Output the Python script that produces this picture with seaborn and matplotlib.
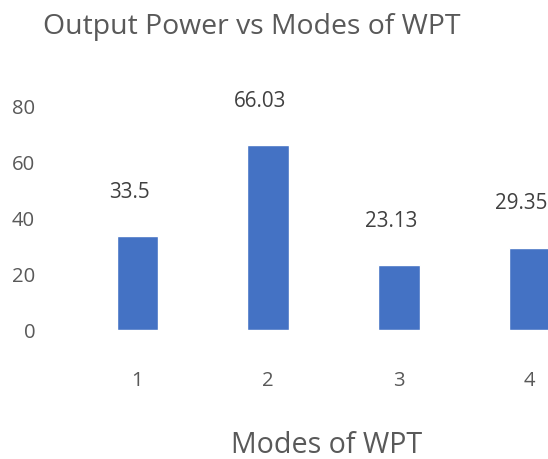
import matplotlib
matplotlib.use("Agg")
import matplotlib.pyplot as plt
import seaborn as sns
import pandas as pd

modes = ["1", "2", "3", "4"]
power = [33.5, 66.03, 23.13, 29.35]
value_labels = ["33.5", "66.03", "23.13", "29.35"]
yticks = [0, 20, 40, 60, 80]

sns.set_theme(style="white")
plt.rcParams['font.family'] = ['Open Sans', 'DejaVu Sans']

df = pd.DataFrame({"mode": modes, "power": power})

fig = plt.figure(figsize=(5.48, 4.60), dpi=100)
ax = fig.add_axes([0.1317, 0.2811, 0.9536, 0.4863])
sns.barplot(data=df, x="mode", y="power", color="#4472C4", width=0.318,
            saturation=1, ax=ax)
ax.set_xlim(-0.5, 3.5)
ax.set_ylim(0, 80)
ax.set_yticks(yticks)
ax.set_yticklabels([str(t) for t in yticks])
for s in ax.spines.values():
    s.set_visible(False)
ax.tick_params(axis="y", length=0, pad=26.6, labelsize=14.6, labelcolor="#595959")
ax.tick_params(axis="x", length=0, pad=29, labelsize=14.6, labelcolor="#595959")
for t in ax.get_yticklabels():
    t.set_y(t.get_position()[1])
ax.set_xlabel("")
ax.set_ylabel("")
ax.grid(False)

for i, (v, lab) in enumerate(zip(power, value_labels)):
    ax.annotate(lab, (i, v), xytext=(-8, 45), textcoords="offset pixels",
                ha="center", va="center", fontsize=14.9, color="#404040")

fig.text(252 / 548, 1 - 27 / 460, "Output Power vs Modes of WPT", ha="center",
         va="center", fontsize=20.4, color="#595959")
fig.text(327 / 548, 1 - 446 / 460, "Modes of WPT", ha="center", va="center",
         fontsize=20.6, color="#595959")

fig.savefig("out.png", dpi=100)
